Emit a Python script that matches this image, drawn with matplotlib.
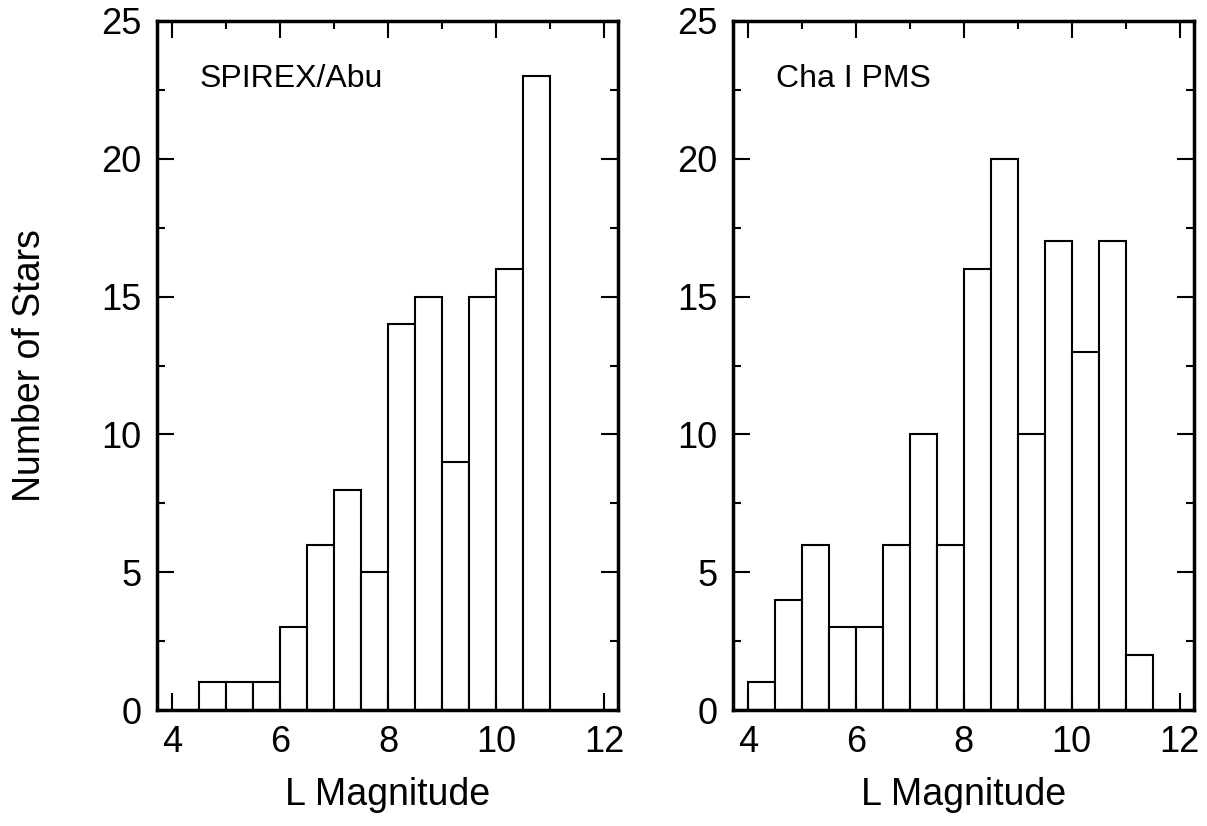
import numpy as np
import matplotlib.pyplot as plt
from matplotlib.ticker import MultipleLocator

plt.rcParams['font.family'] = ['Liberation Sans', 'DejaVu Sans']

bin_width = 0.5
spirex_left = [4.5, 5.0, 5.5, 6.0, 6.5, 7.0, 7.5, 8.0, 8.5, 9.0, 9.5, 10.0, 10.5]
spirex_counts = [1, 1, 1, 3, 6, 8, 5, 14, 15, 9, 15, 16, 23]
cha_left = [4.0, 4.5, 5.0, 5.5, 6.0, 6.5, 7.0, 7.5, 8.0, 8.5, 9.0, 9.5, 10.0, 10.5, 11.0]
cha_counts = [1, 4, 6, 3, 3, 6, 10, 6, 16, 20, 10, 17, 13, 17, 2]

fig = plt.figure(figsize=(12.07, 8.26), dpi=100)
ax1 = fig.add_axes([0.130, 0.1404, 0.382, 0.8342])
ax2 = fig.add_axes([0.607, 0.1404, 0.382, 0.8342])

panels = [(ax1, spirex_left, spirex_counts, 'SPIREX/Abu'),
          (ax2, cha_left, cha_counts, 'Cha I PMS')]

for ax, left, counts, label in panels:
    ax.bar(left, counts, width=bin_width, align='edge', facecolor='white',
           edgecolor='black', linewidth=1.5)
    ax.set_xlim(3.72, 12.26)
    ax.set_ylim(0, 25)
    ax.xaxis.set_major_locator(MultipleLocator(2))
    ax.xaxis.set_minor_locator(MultipleLocator(1))
    ax.yaxis.set_major_locator(MultipleLocator(5))
    ax.yaxis.set_minor_locator(MultipleLocator(2.5))
    ax.tick_params(which='both', direction='in', top=True, right=True,
                   labelsize=26, width=1.5, pad=11)
    ax.tick_params(which='major', length=12)
    ax.tick_params(which='minor', length=6)
    for s in ax.spines.values():
        s.set_linewidth(2.5)
    ax.set_xlabel('L Magnitude', fontsize=27, labelpad=12)
    ax.text(0.093, 0.916, label, transform=ax.transAxes, fontsize=23,
            ha='left', va='center')

ax1.set_ylabel('Number of Stars', fontsize=27, labelpad=38)

fig.savefig('out.png', dpi=100)
